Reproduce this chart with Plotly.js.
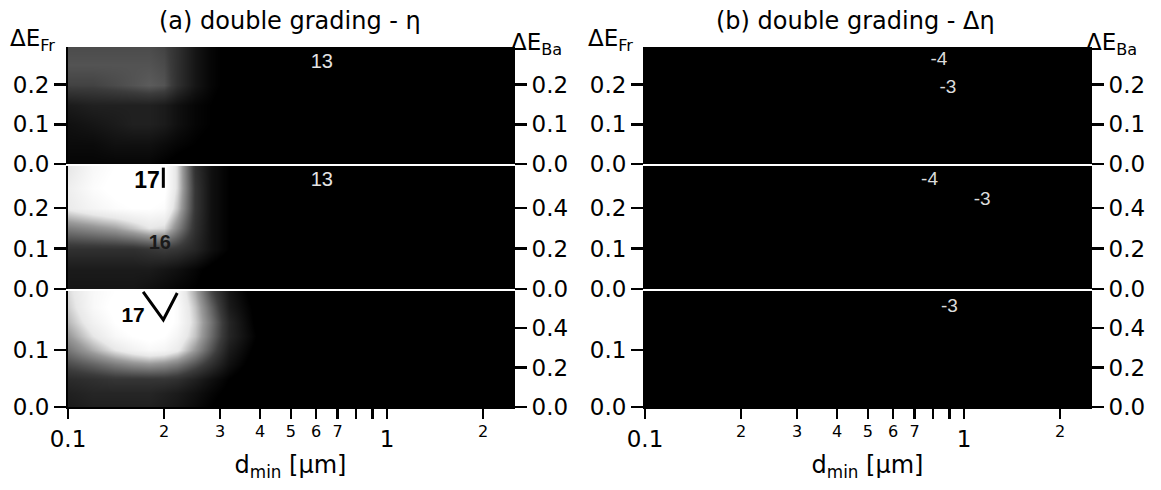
<!DOCTYPE html>
<html><head><meta charset="utf-8">
<script src="https://cdn.plot.ly/plotly-3.0.1.min.js"></script>
<style>html,body{margin:0;padding:0;background:#fff}</style>
</head><body><div id="chart" style="width:1161px;height:490px"></div>
<script>
// ---------------- data ----------------
const xGridA = [0.1, 0.12, 0.14, 0.16, 0.18, 0.2, 0.22, 0.25, 0.28, 0.32, 0.4, 0.6, 1.0, 1.6, 2.5];
const yGridTopMid = [0, 0.05, 0.1, 0.15, 0.2, 0.25, 0.3];
const yGridBot = [0, 0.025, 0.05, 0.075, 0.1, 0.125, 0.15, 0.175, 0.2];

// (a) efficiency eta [%]
const etaTop = [
  [14.0,14.0,14.0,14.0,14.0,13.9,13.8,13.7,13.6,13.5,13.3,13.2,13.1,13.0,13.0],
  [14.1,14.1,14.2,14.2,14.2,14.1,14.0,13.9,13.8,13.6,13.4,13.2,13.1,13.0,13.0],
  [14.2,14.3,14.4,14.5,14.5,14.4,14.2,14.0,13.9,13.7,13.5,13.3,13.1,13.0,13.0],
  [14.4,14.5,14.5,14.5,14.5,14.4,14.2,14.0,13.9,13.7,13.5,13.3,13.1,13.0,13.0],
  [15.1,15.1,15.2,15.3,15.4,15.3,14.8,14.3,14.0,13.8,13.6,13.3,13.1,13.0,13.0],
  [15.3,15.3,15.3,15.3,15.3,15.2,14.8,14.3,14.0,13.8,13.6,13.3,13.1,13.0,13.0],
  [15.2,15.2,15.2,15.2,15.2,15.1,14.8,14.3,14.0,13.8,13.6,13.3,13.1,13.0,13.0]
];
const etaMid = [
  [14.3,14.3,14.3,14.3,14.2,14.1,14.0,13.9,13.7,13.5,13.3,13.2,13.1,13.0,13.0],
  [14.4,14.4,14.4,14.4,14.4,14.3,14.2,14.0,13.8,13.6,13.4,13.2,13.1,13.0,13.0],
  [14.8,14.8,14.8,14.8,14.9,15.0,14.9,14.6,14.2,13.9,13.6,13.3,13.1,13.0,13.0],
  [15.8,16.0,16.2,16.5,16.8,16.7,15.9,14.8,14.2,13.9,13.6,13.3,13.1,13.0,13.0],
  [16.9,17.2,17.4,17.5,17.5,17.4,16.5,14.9,14.2,13.9,13.6,13.3,13.1,13.0,13.0],
  [17.0,17.4,17.6,17.7,17.7,17.6,16.7,14.9,14.2,13.9,13.6,13.3,13.1,13.0,13.0],
  [16.8,17.3,17.5,17.6,17.7,17.6,16.7,14.8,14.2,13.9,13.6,13.3,13.1,13.0,13.0]
];
const etaBot = [
  [14.4,14.5,14.5,14.5,14.5,14.4,14.3,14.1,13.9,13.7,13.4,13.2,13.1,13.0,13.0],
  [14.5,14.6,14.6,14.6,14.6,14.5,14.4,14.2,14.0,13.8,13.5,13.2,13.1,13.0,13.0],
  [14.7,14.8,14.9,14.9,14.9,14.9,14.8,14.5,14.2,13.9,13.5,13.3,13.1,13.0,13.0],
  [15.2,15.5,15.8,16.0,16.1,16.0,15.8,15.3,14.8,14.2,13.6,13.3,13.1,13.0,13.0],
  [15.7,16.3,16.8,17.1,17.3,17.2,16.9,16.1,15.3,14.4,13.7,13.3,13.1,13.0,13.0],
  [16.1,16.8,17.3,17.5,17.6,17.5,17.2,16.5,15.6,14.6,13.8,13.3,13.1,13.0,13.0],
  [16.4,17.1,17.5,17.7,17.8,17.7,17.4,16.6,15.7,14.6,13.7,13.3,13.1,13.0,13.0],
  [16.6,17.3,17.6,17.8,17.8,17.7,17.4,16.5,15.5,14.4,13.7,13.3,13.1,13.0,13.0],
  [16.7,17.3,17.5,17.7,17.7,17.6,17.3,16.3,15.2,14.3,13.6,13.3,13.1,13.0,13.0]
];

// (b) efficiency change delta eta [%abs]
const xGridB = [0.1, 0.2, 0.4, 0.7, 1.0, 1.5, 2.5];
const dEtaTop = [
  [-4.6,-4.5,-4.3,-4.0,-3.4,-3.0,-2.8],
  [-4.6,-4.5,-4.3,-4.0,-3.4,-3.0,-2.8],
  [-4.7,-4.6,-4.4,-4.1,-3.5,-3.1,-2.9],
  [-4.7,-4.6,-4.4,-4.1,-3.5,-3.1,-2.9],
  [-4.8,-4.7,-4.5,-4.2,-3.1,-2.9,-2.8],
  [-4.8,-4.7,-4.5,-4.0,-3.6,-3.2,-3.0],
  [-4.8,-4.7,-4.5,-4.2,-3.8,-3.4,-3.1]
];
const dEtaMid = [
  [-4.6,-4.5,-4.3,-4.0,-3.5,-3.1,-2.9],
  [-4.6,-4.5,-4.3,-4.0,-3.5,-3.1,-2.9],
  [-4.7,-4.6,-4.4,-4.1,-3.6,-3.1,-2.9],
  [-4.7,-4.6,-4.4,-4.1,-3.7,-3.2,-3.0],
  [-4.8,-4.7,-4.5,-4.2,-3.8,-3.0,-2.9],
  [-4.8,-4.7,-4.5,-4.0,-3.9,-3.4,-3.1],
  [-4.8,-4.7,-4.5,-4.2,-3.9,-3.5,-3.2]
];
const dEtaBot = [
  [-4.5,-4.4,-4.2,-3.9,-3.4,-3.0,-2.8],
  [-4.5,-4.4,-4.2,-3.9,-3.4,-3.0,-2.8],
  [-4.6,-4.5,-4.3,-4.0,-3.4,-3.0,-2.8],
  [-4.6,-4.5,-4.3,-4.0,-3.3,-3.0,-2.8],
  [-4.7,-4.6,-4.4,-4.1,-3.2,-2.9,-2.8],
  [-4.7,-4.6,-4.4,-4.1,-3.2,-2.9,-2.8],
  [-4.7,-4.6,-4.4,-4.0,-3.1,-2.9,-2.8],
  [-4.8,-4.7,-4.5,-4.1,-3.3,-3.0,-2.8],
  [-4.8,-4.7,-4.5,-4.2,-3.5,-3.1,-2.9]
];

// contour labels (a)
const labTopA = {x:[0.625], y:[0.255], t:['13']};
const labMidA_white = {x:[0.625], y:[0.267], t:['13']};
const labMidA_black = {x:[0.177], y:[0.265], t:['17']};
const labMidA_dark = {x:[0.194], y:[0.11], t:['16']};
const labBotA_black = {x:[0.16], y:[0.158], t:['17']};
// contour line pieces (a)
const segMidA = {x:[0.199, 0.199], y:[0.30, 0.25]};
const segBotA = {x:[0.172, 0.199, 0.22], y:[0.202, 0.153, 0.2]};
// contour labels (b)
const labTopB = {x:[0.834, 0.89], y:[0.262, 0.19], t:['-4', '-3']};
const labMidB = {x:[0.78, 1.14], y:[0.27, 0.22], t:['-4', '-3']};
const labBotB = {x:[0.90], y:[0.175], t:['-3']};

// axis ticks
const xTickVals = [0.1, 0.2, 0.3, 0.4, 0.5, 0.6, 0.7, 1, 2];
const xTickText = ['0.1', '2', '3', '4', '5', '6', '7', '1', '2'];
const xMinorVals = [0.8, 0.9];
const yFrTicksTopMid = [0, 0.1, 0.2];
const yFrTicksBot = [0, 0.1];
const yBaTicksTop = [0, 0.1, 0.2];
const yBaTicksMidBot = [0, 0.2, 0.4];

// ---------------- layout helpers ----------------
const W = 1161, H = 490;
const FONT = 'DejaVu Sans';
const px = v => v / W;
const py = v => 1 - v / H;
const domA = [px(68), px(513)], domB = [px(645), px(1090)];
const rowTop = [py(164), py(47)], rowMid = [py(289), py(166)], rowBot = [py(407), py(291)];
const xRange = [-1, 0.395];

const grayScale = [[0,'#000000'],[0.2,'#000000'],[0.45,'#3c3c3c'],[0.7,'#9a9a9a'],[0.85,'#e8e8e8'],[1,'#ffffff']];
const blackScale = [[0,'#000000'],[1,'#000000']];

// small raised digits for non-decade ticks, as in the reference
const fmtTick = s => (s === '0.1' || s === '1') ? s : '<sup>' + s + '</sup>';

function hm(x, y, z, xa, ya, scale, zmin, zmax){
  return {type:'heatmap', x:x, y:y, z:z, xaxis:xa, yaxis:ya, colorscale:scale,
    zmin:zmin, zmax:zmax, zsmooth:'best', showscale:false, hoverinfo:'skip'};
}
function txt(l, xa, ya, color, size, bold){
  return {type:'scatter', mode:'text', x:l.x, y:l.y, text:l.t.map(s => bold ? '<b>'+s+'</b>' : s),
    xaxis:xa, yaxis:ya, textposition:'middle center', cliponaxis:false,
    textfont:{family:'Liberation Sans', size:size, color:color}, hoverinfo:'skip', showlegend:false};
}
function seg(s, xa, ya){
  return {type:'scatter', mode:'lines', x:s.x, y:s.y, xaxis:xa, yaxis:ya,
    line:{color:'#000', width:3}, hoverinfo:'skip', showlegend:false};
}
function empty(xa, ya){
  return {type:'scatter', mode:'markers', x:[], y:[], xaxis:xa, yaxis:ya, showlegend:false, hoverinfo:'skip'};
}

const traces = [
  hm(xGridA, yGridTopMid, etaTop, 'x', 'y', grayScale, 13, 17.5),
  hm(xGridA, yGridTopMid, etaMid, 'x2', 'y2', grayScale, 13, 17.5),
  hm(xGridA, yGridBot, etaBot, 'x3', 'y3', grayScale, 13, 17.5),
  hm(xGridB, yGridTopMid, dEtaTop, 'x4', 'y4', blackScale, -5, -2),
  hm(xGridB, yGridTopMid, dEtaMid, 'x5', 'y5', blackScale, -5, -2),
  hm(xGridB, yGridBot, dEtaBot, 'x6', 'y6', blackScale, -5, -2),
  seg(segMidA, 'x2', 'y2'),
  seg(segBotA, 'x3', 'y3'),
  txt(labTopA, 'x', 'y', '#e4e4e4', 20, false),
  txt(labMidA_white, 'x2', 'y2', '#e4e4e4', 20, false),
  txt(labMidA_black, 'x2', 'y2', '#000', 23, true),
  txt(labMidA_dark, 'x2', 'y2', '#1a1a1a', 20, true),
  txt(labBotA_black, 'x3', 'y3', '#000', 21, true),
  txt(labTopB, 'x4', 'y4', '#dcdcdc', 19, false),
  txt(labMidB, 'x5', 'y5', '#dcdcdc', 19, false),
  txt(labBotB, 'x6', 'y6', '#dcdcdc', 19, false),
  empty('x', 'y7'), empty('x2', 'y8'), empty('x3', 'y9'),
  empty('x4', 'y10'), empty('x5', 'y11'), empty('x6', 'y12')
];

function xHidden(dom, anchor){
  return {type:'log', domain:dom, anchor:anchor, range:xRange, showticklabels:false, ticks:'',
    showline:false, showgrid:false, zeroline:false, fixedrange:true};
}
function xShown(dom, anchor){
  return {type:'log', domain:dom, anchor:anchor, range:xRange, tickmode:'array', tickvals:xTickVals,
    ticktext:xTickText.map(fmtTick), ticks:'outside', ticklen:10, tickwidth:2.5, tickcolor:'#000',
    minor:{tickmode:'array', tickvals:xMinorVals, ticks:'outside', ticklen:10, tickwidth:2.5, tickcolor:'#000', showgrid:false},
    showline:true, linecolor:'#000', linewidth:2, showgrid:false, zeroline:false, fixedrange:true,
    tickfont:{family:FONT, size:23, color:'#000'},
    title:{text:'d<sub>min</sub> [µm]', font:{family:FONT, size:24, color:'#000'}, standoff:6}};
}
function yAx(dom, anchor, range, vals, side, overlay){
  const o = {domain:dom, anchor:anchor, range:range, tickmode:'array', tickvals:vals,
    ticktext:vals.map(v => v.toFixed(1)), ticks:'outside', ticklen:12, tickwidth:2.5, tickcolor:'#000',
    showline:true, linecolor:'#000', linewidth:2, showgrid:false, zeroline:false, fixedrange:true,
    side:side, tickfont:{family:FONT, size:23, color:'#000'}};
  if (overlay) { o.overlaying = overlay; delete o.domain; }
  return o;
}

const rTop = [0, 0.295], rMid = [0, 0.304], rBot = [0, 0.2035];
const rBaTop = [0, 0.295], rBaMid = [0, 0.607], rBaBot = [0, 0.587];

const ann = (text, x, y, xanchor, size) => ({text:text, xref:'paper', yref:'paper', x:x, y:y,
  xanchor:xanchor, yanchor:'middle', showarrow:false, font:{family:FONT, size:size, color:'#000'}});

const layout = {
  width:W, height:H, margin:{l:0, r:0, t:0, b:0}, paper_bgcolor:'#fff', plot_bgcolor:'#000',
  showlegend:false, font:{family:FONT, color:'#000'},
  xaxis: xHidden(domA, 'y'), xaxis2: xHidden(domA, 'y2'), xaxis3: xShown(domA, 'y3'),
  xaxis4: xHidden(domB, 'y4'), xaxis5: xHidden(domB, 'y5'), xaxis6: xShown(domB, 'y6'),
  yaxis: yAx(rowTop, 'x', rTop, yFrTicksTopMid, 'left'),
  yaxis2: yAx(rowMid, 'x2', rMid, yFrTicksTopMid, 'left'),
  yaxis3: yAx(rowBot, 'x3', rBot, yFrTicksBot, 'left'),
  yaxis4: yAx(rowTop, 'x4', rTop, yFrTicksTopMid, 'left'),
  yaxis5: yAx(rowMid, 'x5', rMid, yFrTicksTopMid, 'left'),
  yaxis6: yAx(rowBot, 'x6', rBot, yFrTicksBot, 'left'),
  yaxis7: yAx(rowTop, 'x', rBaTop, yBaTicksTop, 'right', 'y'),
  yaxis8: yAx(rowMid, 'x2', rBaMid, yBaTicksMidBot, 'right', 'y2'),
  yaxis9: yAx(rowBot, 'x3', rBaBot, yBaTicksMidBot, 'right', 'y3'),
  yaxis10: yAx(rowTop, 'x4', rBaTop, yBaTicksTop, 'right', 'y4'),
  yaxis11: yAx(rowMid, 'x5', rBaMid, yBaTicksMidBot, 'right', 'y5'),
  yaxis12: yAx(rowBot, 'x6', rBaBot, yBaTicksMidBot, 'right', 'y6'),
  annotations: [
    ann('(a) double grading - η', px(290), py(21), 'center', 24),
    ann('(b) double grading - Δη', px(855), py(21), 'center', 24),
    ann('ΔE<sub>Fr</sub>', px(8), py(40), 'left', 23),
    ann('ΔE<sub>Ba</sub>', px(509), py(44), 'left', 23),
    ann('ΔE<sub>Fr</sub>', px(586), py(40), 'left', 23),
    ann('ΔE<sub>Ba</sub>', px(1084), py(44), 'left', 23)
  ]
};

Plotly.newPlot('chart', traces, layout, {staticPlot:true, displayModeBar:false});
</script></body></html>
